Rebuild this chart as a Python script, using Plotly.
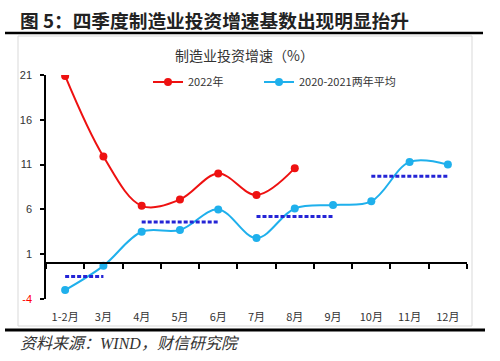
import plotly.graph_objects as go

months = ["1-2月", "3月", "4月", "5月", "6月", "7月", "8月", "9月", "10月", "11月", "12月"]
y2022 = [20.9, 11.9, 6.4, 7.1, 10.0, 7.6, 10.6]
yavg = [-3.0, -0.3, 3.5, 3.7, 6.0, 2.8, 6.1, 6.5, 6.9, 11.3, 11.0]
quarter_x = [["1-2月", "3月"], ["4月", "6月"], ["7月", "9月"], ["10月", "12月"]]
quarter_y = [-1.5, 4.6, 5.2, 9.7]
yticks = [-4, 1, 6, 11, 16, 21]

W, H = 500, 361
L, R, T, B = 46, 33, 75, 62
PW, PH = W - L - R, H - T - B

def px(x):
    return (x - L) / PW

def py(y):
    return (H - B - y) / PH

CJK = "Noto Sans CJK SC"
fig = go.Figure()

fig.add_trace(go.Scatter(
    x=months[:len(y2022)], y=y2022, name="2022年", mode="lines+markers",
    line=dict(color="#ee1111", width=2, shape="spline", smoothing=1.0),
    marker=dict(size=8, color="#ee1111"), legendwidth=66))
fig.add_trace(go.Scatter(
    x=months, y=yavg, name="2020-2021两年平均", mode="lines+markers",
    line=dict(color="#1fb0ec", width=2, shape="spline", smoothing=1.0),
    marker=dict(size=8, color="#1fb0ec")))

qx, qy = [], []
for xs, v in zip(quarter_x, quarter_y):
    qx += xs + [None]
    qy += [v, v, None]
fig.add_trace(go.Scatter(
    x=qx, y=qy, mode="lines", showlegend=False, hoverinfo="skip",
    line=dict(color="#2424d6", width=3, dash="4px,2px")))

# invisible trace for the zero-crossing category axis
fig.add_trace(go.Scatter(
    x=months, y=[0] * len(months), xaxis="x2", mode="markers",
    marker=dict(opacity=0), showlegend=False, hoverinfo="skip"))

ticktext = [("<span style='color:#ff0000'>%d</span>" % v) if v < 0 else str(v) for v in yticks]

fig.update_layout(
    width=W, height=H, margin=dict(l=L, r=R, t=T, b=B, autoexpand=False),
    paper_bgcolor="white", plot_bgcolor="white",
    font=dict(family=CJK, size=11, color="#333333"),
    xaxis=dict(type="category", categoryarray=months, range=[-0.5, len(months) - 0.5],
               showline=False, showgrid=False, zeroline=False, automargin=False,
               ticks="outside", ticklen=8, tickcolor="rgba(0,0,0,0)",
               tickfont=dict(family=CJK, size=11, color="#333333")),
    xaxis2=dict(type="category", categoryarray=months, range=[-0.5, len(months) - 0.5],
                overlaying="x", anchor="free", position=4 / 25, side="bottom",
                showline=True, linecolor="#000000", linewidth=1.5, automargin=False,
                ticks="outside", tickson="boundaries", ticklen=5, tickwidth=1.5,
                tickcolor="#000000", showticklabels=False, showgrid=False, zeroline=False),
    yaxis=dict(range=[-4, 21], tickvals=yticks, ticktext=ticktext, automargin=False,
               showline=True, linecolor="#000000", linewidth=1.5,
               ticks="outside", ticklen=4, tickwidth=1.5, tickcolor="#000000",
               ticklabelstandoff=6,
               showgrid=False, zeroline=False,
               tickfont=dict(family="Liberation Sans", size=11, color="#333333")),
    legend=dict(orientation="h", x=px(148), y=py(82), xanchor="left", yanchor="middle",
                font=dict(family=CJK, size=11, color="#333333"),
                bgcolor="rgba(0,0,0,0)"),
    showlegend=True,
)

fig.add_annotation(text="制造业投资增速（%）", x=px(244), y=py(55), xref="paper", yref="paper",
                   xanchor="center", yanchor="middle",
                   showarrow=False, font=dict(family=CJK, size=14, color="#333333"))
fig.add_annotation(text="<b>图 5：四季度制造业投资增速基数出现明显抬升</b>", x=px(18), y=py(19),
                   xref="paper", yref="paper", xanchor="left", yanchor="middle", showarrow=False,
                   font=dict(family=CJK, size=18.7, color="#222222"))
fig.add_annotation(text="<i>资料来源：WIND，财信研究院</i>", x=px(18), y=py(343),
                   xref="paper", yref="paper", xanchor="left", yanchor="middle", showarrow=False,
                   font=dict(family="Liberation Serif, " + CJK, size=16, color="#333333"))

fig.add_shape(type="rect", xref="paper", yref="paper", x0=px(18), x1=px(472), y0=py(326), y1=py(36),
              line=dict(color="#d9d9d9", width=1), layer="below")
fig.add_shape(type="line", xref="paper", yref="paper", x0=px(5), x1=px(483), y0=py(33), y1=py(33),
              line=dict(color="#000000", width=2.5))
fig.add_shape(type="line", xref="paper", yref="paper", x0=px(5), x1=px(485), y0=py(330), y1=py(330),
              line=dict(color="#000000", width=3))

fig.write_html("out.html", config={"displayModeBar": False},
               post_script="document.body.style.margin='0px';")
